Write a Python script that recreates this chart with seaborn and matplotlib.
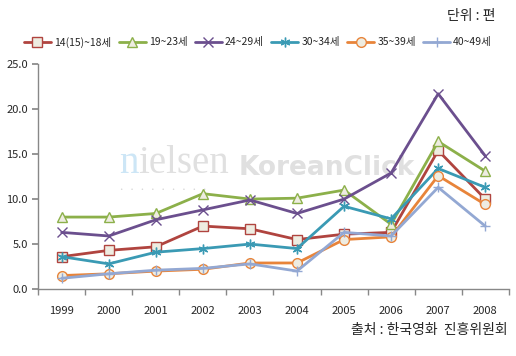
import matplotlib
matplotlib.use("Agg")
import matplotlib.pyplot as plt
import seaborn as sns

sns.set_theme(style="white")
plt.rcParams["font.family"] = ["Noto Sans CJK KR", "DejaVu Sans"]

years = ["1999", "2000", "2001", "2002", "2003", "2004", "2005", "2006", "2007", "2008"]
labels = ["14(15)~18세", "19~23세", "24~29세", "30~34세", "35~39세", "40~49세"]

age_14_18 = [3.6, 4.3, 4.7, 7.0, 6.7, 5.5, 6.1, 6.3, 15.4, 10.0]
age_19_23 = [8.0, 8.0, 8.4, 10.6, 10.0, 10.1, 11.0, 7.2, 16.4, 13.1]
age_24_29 = [6.3, 5.9, 7.7, 8.8, 9.9, 8.4, 10.0, 12.9, 21.7, 14.8]
age_30_34 = [3.6, 2.8, 4.1, 4.5, 5.0, 4.5, 9.2, 7.8, 13.4, 11.3]
age_35_39 = [1.5, 1.7, 2.0, 2.2, 2.9, 2.9, 5.5, 5.8, 12.6, 9.4]
age_40_49 = [1.2, 1.7, 2.1, 2.3, 2.8, 2.0, 6.3, 5.9, 11.3, 7.0]

series = [age_14_18, age_19_23, age_24_29, age_30_34, age_35_39, age_40_49]
colors = ["#B0443F", "#8CB04A", "#6B4F8E", "#3A9AB4", "#E8843A", "#93A8D3"]
markers = ["s", "^", "x", (6, 2, 0), "o", "+"]
face = "#EEECE1"

fig = plt.figure(figsize=(5.16, 3.56), dpi=100)
ax = fig.add_axes([0.074, 0.188, 0.912, 0.632])

# faint watermark sitting under the lines
t_n = ax.text(0.171, 0.515, "n", transform=ax.transAxes, fontsize=28,
              family="Liberation Serif", color="#CDE6F6", zorder=0, va="baseline")
t_rest = ax.annotate("ielsen", xy=(1, 0), xycoords=t_n, fontsize=28,
                     family="Liberation Serif", color="#E0E0E0", zorder=0,
                     va="bottom", ha="left")
ax.annotate("KoreanClick", xy=(1, 0), xycoords=t_rest, xytext=(7, 1),
            textcoords="offset points", fontsize=19, family="DejaVu Sans",
            weight="bold", color="#E0E0E0", zorder=0, va="bottom", ha="left")
ax.text(0.174, 0.435, "•    •    •    •    •    •    •    •    •", transform=ax.transAxes,
        fontsize=4, family="DejaVu Sans", color="#D5D5D5", zorder=0)

x = list(range(len(years)))
for vals, lab, col, mk in zip(series, labels, colors, markers):
    sns.lineplot(x=x, y=vals, ax=ax, color=col, linewidth=2.0, marker=mk,
                 markersize=7, markerfacecolor=face, markeredgecolor=col,
                 markeredgewidth=1.0, label=lab, zorder=3)

ax.set_xlim(-0.5, 9.5)
ax.set_ylim(0, 25)
ax.set_yticks([0, 5, 10, 15, 20, 25])
ax.set_yticklabels([f"{v:.1f}" for v in [0, 5, 10, 15, 20, 25]])
ax.set_xticks(x)
ax.set_xticklabels(years)
ax.set_xticks([i - 0.5 for i in range(len(years) + 1)], minor=True)
ax.tick_params(axis="x", which="major", length=0, pad=12, labelsize=8)
ax.tick_params(axis="x", which="minor", length=4, color="#888888", direction="out", bottom=True)
ax.tick_params(axis="y", length=4, color="#888888", direction="out", left=True, labelsize=8)
ax.set_xlabel("")
ax.set_ylabel("")
sns.despine(ax=ax)
for side in ["left", "bottom"]:
    ax.spines[side].set_color("#888888")
    ax.spines[side].set_linewidth(1.0)
ax.grid(False)

handles, lbls = ax.get_legend_handles_labels()
ax.get_legend().remove()
fig.legend(handles, lbls, loc="center", bbox_to_anchor=(0.5, 0.882), ncol=6,
           frameon=False, fontsize=7.5, handlelength=2.6, columnspacing=0.7,
           handletextpad=0.3)

fig.text(0.96, 0.955, "단위 : 편", fontsize=10, ha="right", va="center")
fig.text(0.983, 0.072, "출처 : 한국영화  진흥위원회", fontsize=10, ha="right", va="center")

fig.savefig("out.png", dpi=100, facecolor="white")
